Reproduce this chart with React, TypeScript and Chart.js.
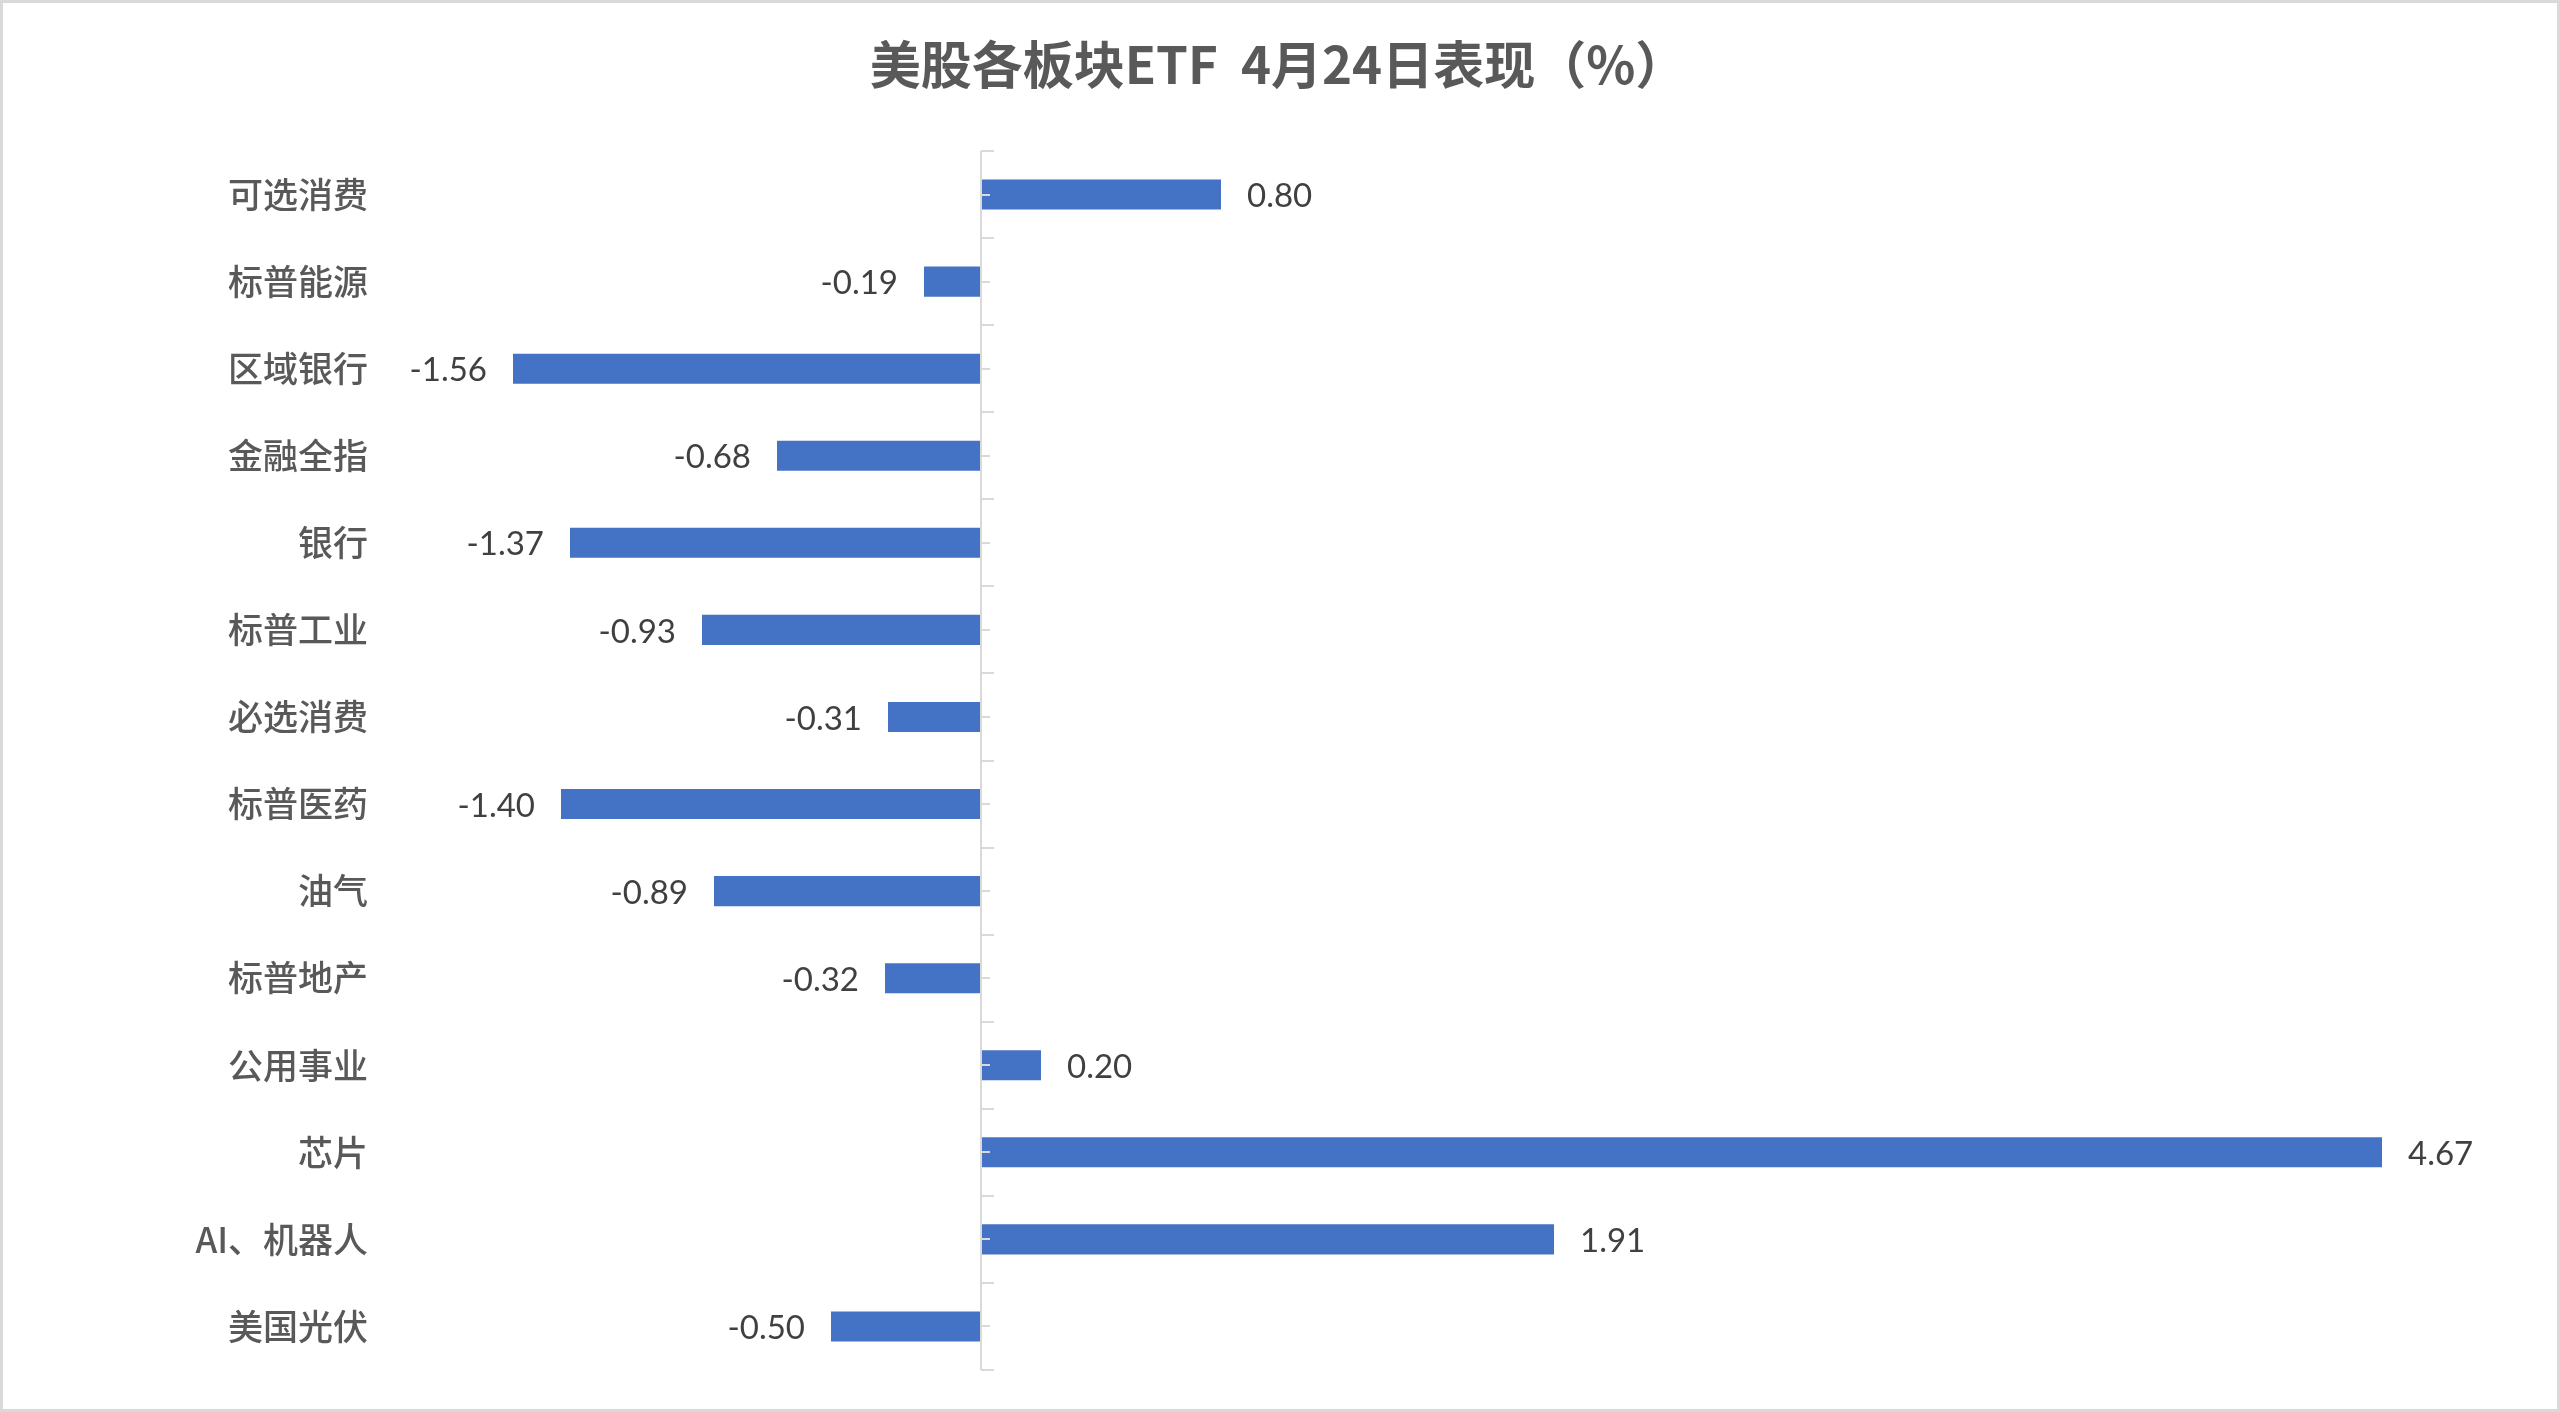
import React, { useEffect, useRef } from "react";
import { Chart, registerables } from "chart.js";

Chart.register(...registerables);

const titleText = "美股各板块ETF  4月24日表现（%）";
const categories = [
  "可选消费",
  "标普能源",
  "区域银行",
  "金融全指",
  "银行",
  "标普工业",
  "必选消费",
  "标普医药",
  "油气",
  "标普地产",
  "公用事业",
  "芯片",
  "AI、机器人",
  "美国光伏",
];
const values = [0.8, -0.19, -1.56, -0.68, -1.37, -0.93, -0.31, -1.4, -0.89, -0.32, 0.2, 4.67, 1.91, -0.5];
const valueLabels = ["0.80", "-0.19", "-1.56", "-0.68", "-1.37", "-0.93", "-0.31", "-1.40", "-0.89", "-0.32", "0.20", "4.67", "1.91", "-0.50"];
const axisMin = -2;
const axisMax = 5;

const W = 2560;
const H = 1412;

export default function App() {
  const ref = useRef<HTMLCanvasElement | null>(null);

  useEffect(() => {
    const canvas = ref.current;
    if (!canvas) return;

    const decor = {
      id: "decor",
      beforeDraw(chart: any) {
        const ctx = chart.ctx;
        ctx.save();
        ctx.fillStyle = "#ffffff";
        ctx.fillRect(0, 0, W, H);
        ctx.strokeStyle = "#d9d9d9";
        ctx.lineWidth = 3;
        ctx.strokeRect(1.5, 1.5, W - 3, H - 3);
        ctx.restore();
      },
      afterDatasetsDraw(chart: any) {
        const ctx = chart.ctx;
        const xs = chart.scales.x;
        const ys = chart.scales.y;
        const area = chart.chartArea;
        const x0 = Math.round(xs.getPixelForValue(0));
        const n = categories.length;
        const step = (area.bottom - area.top) / n;
        ctx.save();
        ctx.strokeStyle = "#d9d9d9";
        ctx.lineWidth = 2;
        ctx.beginPath();
        ctx.moveTo(x0, area.top);
        ctx.lineTo(x0, area.bottom);
        for (let i = 0; i <= n; i++) {
          const y = Math.round(area.top + i * step);
          ctx.moveTo(x0, y);
          ctx.lineTo(x0 + 13, y);
        }
        for (let i = 0; i < n; i++) {
          const y = Math.round(ys.getPixelForValue(i));
          ctx.moveTo(x0, y);
          ctx.lineTo(x0 + 9, y);
        }
        ctx.stroke();

        // data labels
        ctx.font = '33px Lato, "Noto Sans CJK SC", sans-serif';
        ctx.fillStyle = "#404040";
        ctx.textBaseline = "middle";
        const meta = chart.getDatasetMeta(0);
        meta.data.forEach((bar: any, i: number) => {
          const v = values[i];
          const y = bar.y + 2;
          if (v >= 0) {
            ctx.textAlign = "left";
            ctx.fillText(valueLabels[i], bar.x + 26, y);
          } else {
            ctx.textAlign = "right";
            ctx.fillText(valueLabels[i], bar.x - 26, y);
          }
        });
        ctx.restore();
      },
      afterDraw(chart: any) {
        const ctx = chart.ctx;
        ctx.save();
        ctx.font = 'bold 51px "Noto Sans CJK SC", sans-serif';
        ctx.fillStyle = "#595959";
        ctx.textAlign = "center";
        ctx.textBaseline = "middle";
        ctx.fillText(titleText, 1278, 65);
        ctx.restore();
      },
    };

    const chart = new Chart(canvas, {
      type: "bar",
      data: {
        labels: categories,
        datasets: [
          {
            data: values,
            backgroundColor: "#4472C4",
            borderWidth: 0,
            barPercentage: 0.345,
            categoryPercentage: 1,
          },
        ],
      },
      options: {
        indexAxis: "y",
        responsive: false,
        animation: false,
        devicePixelRatio: 1,
        layout: { padding: { left: 0, right: 79, top: 151, bottom: 42 } },
        plugins: {
          legend: { display: false },
          title: { display: false },
          tooltip: { enabled: false },
        },
        scales: {
          x: {
            display: false,
            min: axisMin,
            max: axisMax,
          },
          y: {
            grid: { display: false },
            border: { display: false },
            ticks: {
              color: "#595959",
              padding: 5,
              font: { family: '"Noto Sans CJK SC", sans-serif', size: 35, weight: "500" },
            },
            afterFit(scale: any) {
              scale.width = 381;
            },
          },
        },
      },
      plugins: [decor],
    } as any);

    return () => chart.destroy();
  }, []);

  return (
    <div style={{ position: "fixed", left: 0, top: 0, width: W, height: H, background: "#fff" }}>
      <canvas ref={ref} width={W} height={H} style={{ width: W, height: H, display: "block" }} />
    </div>
  );
}
